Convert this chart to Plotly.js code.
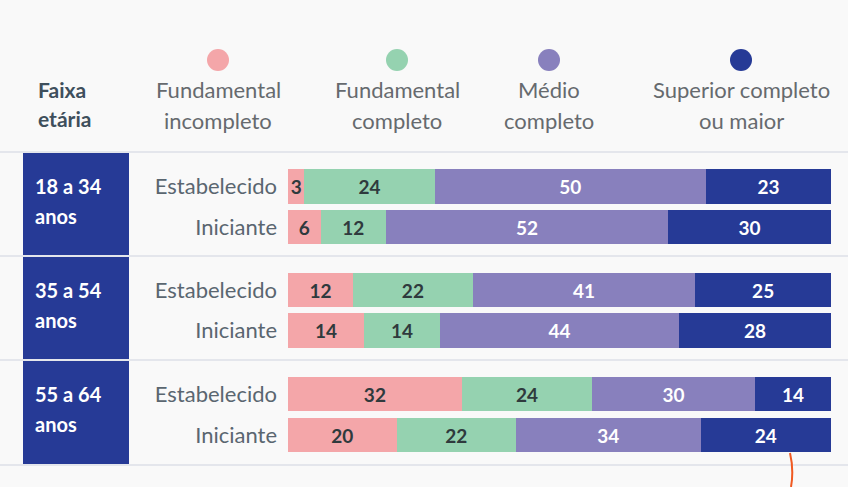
<!DOCTYPE html>
<html>
<head>
<meta charset="utf-8">
<script src="https://cdn.plot.ly/plotly-3.0.1.min.js"></script>
<style>html,body{margin:0;padding:0;background:#f9f9f9;}#chart{width:848px;height:487px;}</style>
</head>
<body>
<div id="chart"></div>
<script>
// ---- Data ----
const categories = ['Estabelecido', 'Iniciante'];
const ageGroups = [['18 a 34', 'anos'], ['35 a 54', 'anos'], ['55 a 64', 'anos']];
const seriesNames = [['Fundamental', 'incompleto'], ['Fundamental', 'completo'], ['Médio', 'completo'], ['Superior completo', 'ou maior']];
// values per row: [18-34 Estab, 18-34 Inic, 35-54 Estab, 35-54 Inic, 55-64 Estab, 55-64 Inic]
const fundamentalIncompleto = [3, 6, 12, 14, 32, 20];
const fundamentalCompleto  = [24, 12, 22, 14, 24, 22];
const medioCompleto        = [50, 52, 41, 44, 30, 34];
const superiorOuMaior      = [23, 30, 25, 28, 14, 24];
const headerLabel = ['Faixa', 'etária'];

// ---- Styles ----
const W = 848, H = 487;
const colors = ['#f4a6a9', '#95d2b0', '#8880bd', '#263a96'];
const textColors = ['#2f3a3d', '#2f3a3d', '#ffffff', '#ffffff'];
const seriesValues = [fundamentalIncompleto, fundamentalCompleto, medioCompleto, superiorOuMaior];
const FONT = 'Lato, "Open Sans", sans-serif';
const px = x => x / W;
const py = y => 1 - y / H;

// group band layout (pixels)
const bandCenters = [[186.5, 227], [290, 330.5], [394, 435]];
const separators = [152, 256, 360, 465];
const barLeft = 288, barRight = 831;

const data = [];
const layout = {
  width: W, height: H,
  margin: {l: 0, r: 0, t: 0, b: 0},
  paper_bgcolor: '#f9f9f9', plot_bgcolor: 'rgba(0,0,0,0)',
  barmode: 'stack', bargap: 0.16,
  showlegend: false,
  font: {family: FONT},
  shapes: [], annotations: []
};

function addText(x, y, text, size, color, anchor) {
  layout.annotations.push({
    xref: 'paper', yref: 'paper', x: px(x), y: py(y),
    xanchor: anchor, yanchor: 'middle', showarrow: false,
    text: text, font: {family: FONT, size: size, color: color}
  });
}

ageGroups.forEach((g, gi) => {
  const sfx = gi === 0 ? '' : String(gi + 1);
  const [c0, c1] = bandCenters[gi];
  const step = c1 - c0;
  const top = c0 - step / 2, bottom = c1 + step / 2;
  layout['xaxis' + sfx] = {
    domain: [px(barLeft), px(barRight)], range: [0, 100], fixedrange: true,
    showgrid: false, zeroline: false, showticklabels: false, showline: false,
    anchor: 'y' + sfx
  };
  layout['yaxis' + sfx] = {
    domain: [py(bottom), py(top)], type: 'category', autorange: 'reversed',
    showgrid: false, zeroline: false, showline: false, ticks: '',
    ticklabelstandoff: 10,
    tickfont: {family: FONT, size: 22, color: '#5a6670'},
    anchor: 'x' + sfx
  };
  seriesValues.forEach((vals, si) => {
    const xv = [vals[2 * gi], vals[2 * gi + 1]];
    data.push({
      type: 'bar', orientation: 'h',
      x: xv, y: categories,
      xaxis: 'x' + sfx, yaxis: 'y' + sfx,
      name: seriesNames[si].join(' '),
      marker: {color: colors[si], line: {width: 0}},
      text: xv.map(String),
      textposition: 'inside', insidetextanchor: 'middle', textangle: 0,
      constraintext: 'none',
      textfont: {family: FONT, size: 19, color: textColors[si], weight: 'bold'},
      hoverinfo: 'x+name'
    });
  });
  // dark box for age group
  layout.shapes.push({
    type: 'rect', xref: 'paper', yref: 'paper', layer: 'below',
    x0: px(23), x1: px(129), y0: py(separators[gi + 1] - 0.5), y1: py(separators[gi] + 1),
    fillcolor: '#263a96', line: {width: 0}
  });
  addText(33, separators[gi] + 34, '<b>' + g[0] + '</b>', 20, '#ffffff', 'left');
  addText(33, separators[gi] + 64, '<b>' + g[1] + '</b>', 20, '#ffffff', 'left');
});

// separator lines
separators.forEach(y => {
  layout.shapes.push({
    type: 'line', xref: 'paper', yref: 'paper', layer: 'below',
    x0: 0, x1: 1, y0: py(y), y1: py(y),
    line: {color: '#e4e6ec', width: 2}
  });
});

// header
addText(36, 89, '<b>' + headerLabel[0] + '</b>', 21, '#3e4f5c', 'left');
addText(36, 118, '<b>' + headerLabel[1] + '</b>', 21, '#3e4f5c', 'left');

// custom legend
const legendX = [218, 397, 549, 741];
seriesNames.forEach((n, i) => {
  const cx = legendX[i], cy = 60, r = 11;
  layout.shapes.push({
    type: 'circle', xref: 'paper', yref: 'paper',
    x0: px(cx - r), x1: px(cx + r), y0: py(cy + r), y1: py(cy - r),
    fillcolor: colors[i], line: {width: 0}
  });
  addText(cx, 89, n[0], 22, '#666a6e', 'center');
  addText(cx, 120, n[1], 22, '#666a6e', 'center');
});

// orange pointer line at bottom
layout.shapes.push({
  type: 'path', xref: 'paper', yref: 'paper',
  path: `M ${px(790)} ${py(453)} Q ${px(794)} ${py(470)} ${px(791)} ${py(487)}`,
  line: {color: '#f05a22', width: 2}
});

Plotly.newPlot('chart', data, layout, {displayModeBar: false, staticPlot: true});
</script>
</body>
</html>
